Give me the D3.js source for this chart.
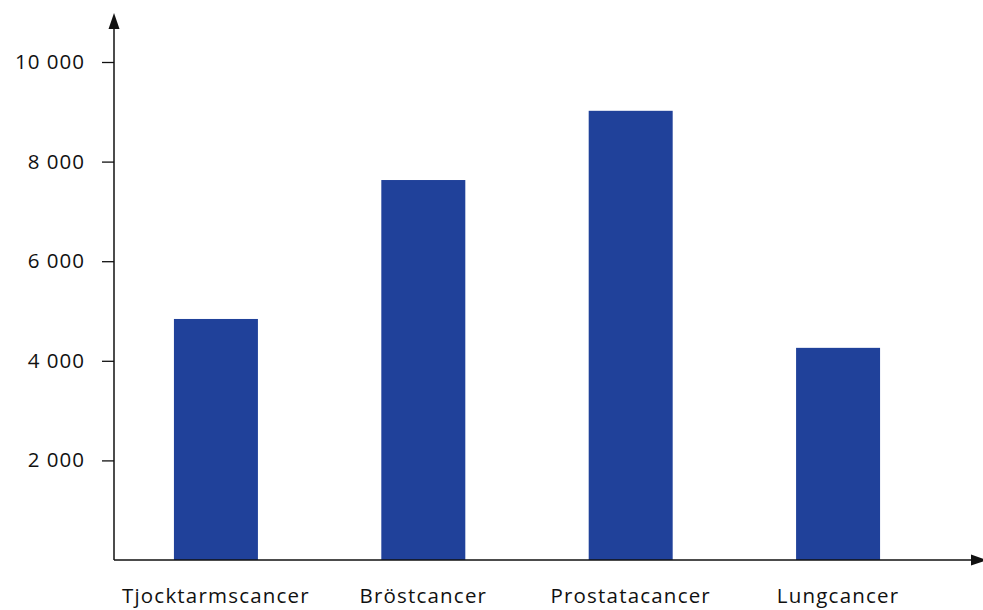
<!DOCTYPE html>
<html><head><meta charset="utf-8">
<script src="https://cdn.jsdelivr.net/npm/d3@7"></script>
<style>body{margin:0;background:#fff}svg{display:block}text{font-family:"Open Sans",sans-serif;fill:#111}</style>
</head><body><svg id="c" width="983" height="610"></svg>
<script>
const categories = ["Tjocktarmscancer","Bröstcancer","Prostatacancer","Lungcancer"];
const values = [4840, 7630, 9020, 4260];
const yTicks = [2000, 4000, 6000, 8000, 10000];
const yTickLabels = ["2 000","4 000","6 000","8 000","10 000"];

const svg = d3.select("#c");
const x0 = 114, y0 = 560;
const x = d3.scaleBand().domain(categories).range([x0, 940]).paddingInner(0.595).paddingOuter(0.289);
const y = d3.scaleLinear().domain([0, 10000]).range([y0, 62]);

svg.append("g").selectAll("rect").data(values).join("rect")
  .attr("x", (d,i) => x(categories[i]))
  .attr("width", x.bandwidth())
  .attr("y", d => y(d))
  .attr("height", d => y0 - y(d))
  .attr("fill", "#20419a");

const fontCss = "'Open Sans',sans-serif";
// y axis
const ya = svg.append("g").attr("transform", `translate(${x0},0)`)
  .call(d3.axisLeft(y).tickValues(yTicks).tickSize(12).tickPadding(17)
    .tickFormat((d,i) => yTickLabels[i]));
ya.select(".domain").remove();
ya.selectAll("line").attr("stroke", "#111").attr("stroke-width", 1.3);
ya.selectAll("text").attr("font-size", 20.5).style("font-family", fontCss).style("letter-spacing","1px").attr("fill","#111");

// x axis
const xa = svg.append("g").attr("transform", `translate(0,${y0})`)
  .call(d3.axisBottom(x).tickSize(0).tickPadding(28));
xa.select(".domain").remove();
xa.selectAll("text").attr("font-size", 20.5).style("font-family", fontCss).style("letter-spacing","1.2px").attr("fill","#111");

// axis lines with arrows
svg.append("line").attr("x1", x0).attr("x2", x0).attr("y1", y0).attr("y2", 22).attr("stroke", "#111").attr("stroke-width", 1.5);
svg.append("path").attr("d", `M${x0},13 L${x0-5.5},29 L${x0+5.5},29 Z`).attr("fill", "#111");
svg.append("line").attr("x1", x0).attr("x2", 975).attr("y1", y0).attr("y2", y0).attr("stroke", "#111").attr("stroke-width", 1.5);
svg.append("path").attr("d", `M987,${y0} L971,${y0-5.5} L971,${y0+5.5} Z`).attr("fill", "#111");
</script></body></html>
